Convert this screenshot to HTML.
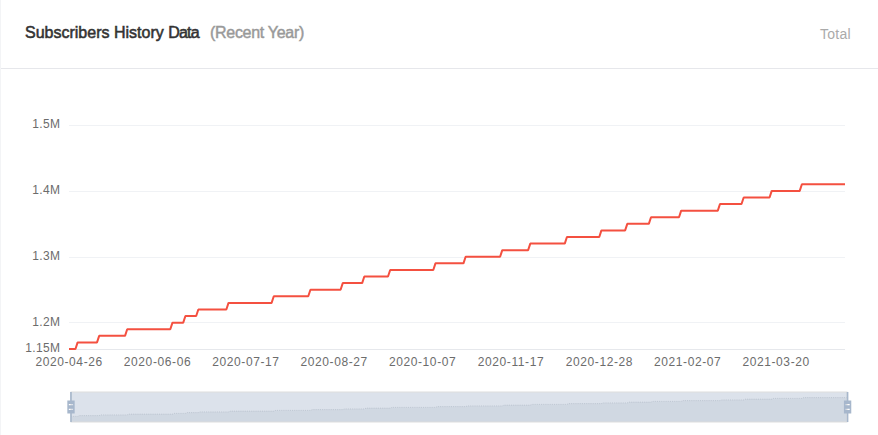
<!DOCTYPE html>
<html lang="en"><head><meta charset="utf-8"><title>Subscribers History Data</title>
<style>
html,body{margin:0;padding:0;background:#fff;}
body{width:878px;height:435px;overflow:hidden;position:relative;font-family:"Liberation Sans",sans-serif;}
.card{position:absolute;left:0;top:0;width:877px;height:435px;border-left:1px solid #f3f4f6;}
.head{position:absolute;left:1px;top:0;width:877px;height:68px;border-bottom:1px solid #e6e7eb;}
.title{position:absolute;left:24px;top:22px;height:22px;line-height:22px;font-size:16px;font-weight:normal;color:#333;-webkit-text-stroke:0.55px #333;letter-spacing:0px;white-space:nowrap;}
.title .d{letter-spacing:-0.75px;}
.sub{position:absolute;left:209px;top:22px;height:22px;line-height:22px;font-size:16px;color:#999;-webkit-text-stroke:0.45px #999;letter-spacing:-0.3px;white-space:nowrap;}
.total{position:absolute;left:819px;letter-spacing:0.25px;top:24px;height:20px;line-height:20px;font-size:14px;color:#aaa;white-space:nowrap;}
svg.chart{position:absolute;left:0;top:0;}
svg text{font-family:"Liberation Sans",sans-serif;font-size:12px;fill:#6c6c6c;}
.yl text{letter-spacing:0.4px;}
.xl text{letter-spacing:0.6px;}
</style></head><body>
<div class="card"></div>
<div class="head"><div class="title">Subscribers History <span class="d">Data</span></div><div class="sub">(Recent Year)</div><div class="total">Total</div></div>
<svg class="chart" width="878" height="435" viewBox="0 0 878 435">
<line x1="69.0" y1="125.5" x2="845.0" y2="125.5" stroke="#f0f2f5" stroke-width="1"/>
<line x1="69.0" y1="191.5" x2="845.0" y2="191.5" stroke="#f0f2f5" stroke-width="1"/>
<line x1="69.0" y1="257.5" x2="845.0" y2="257.5" stroke="#f0f2f5" stroke-width="1"/>
<line x1="69.0" y1="322.5" x2="845.0" y2="322.5" stroke="#f0f2f5" stroke-width="1"/>
<line x1="69.0" y1="349.5" x2="845.0" y2="349.5" stroke="#e6e8ec" stroke-width="1"/>
<polyline points="69.00,349.00 75.47,349.00 77.62,342.41 97.02,342.41 99.18,335.82 125.04,335.82 127.20,329.24 170.31,329.24 172.47,322.65 183.24,322.65 185.40,316.06 196.18,316.06 198.33,309.47 226.36,309.47 228.51,302.88 271.62,302.88 273.78,296.29 308.27,296.29 310.42,289.71 340.60,289.71 342.76,283.12 362.16,283.12 364.31,276.53 388.02,276.53 390.18,269.94 433.29,269.94 435.44,263.35 463.47,263.35 465.62,256.76 500.11,256.76 502.27,250.18 528.13,250.18 530.29,243.59 564.78,243.59 566.93,237.00 599.27,237.00 601.42,230.41 625.13,230.41 627.29,223.82 648.84,223.82 651.00,217.24 679.02,217.24 681.18,210.65 717.82,210.65 719.98,204.06 741.53,204.06 743.69,197.47 769.56,197.47 771.71,190.88 799.73,190.88 801.89,184.29 845.00,184.29" fill="none" stroke="#f45040" stroke-width="2" stroke-linejoin="bevel"/>
<g class="yl">
<text x="60.5" y="128.0" text-anchor="end">1.5M</text>
<text x="60.5" y="193.9" text-anchor="end">1.4M</text>
<text x="60.5" y="259.8" text-anchor="end">1.3M</text>
<text x="60.5" y="325.6" text-anchor="end">1.2M</text>
<text x="60.5" y="352.0" text-anchor="end">1.15M</text>
</g><g class="xl">
<text x="69.1" y="366" text-anchor="middle">2020-04-26</text>
<text x="157.5" y="366" text-anchor="middle">2020-06-06</text>
<text x="245.9" y="366" text-anchor="middle">2020-07-17</text>
<text x="334.2" y="366" text-anchor="middle">2020-08-27</text>
<text x="422.6" y="366" text-anchor="middle">2020-10-07</text>
<text x="511.0" y="366" text-anchor="middle">2020-11-17</text>
<text x="599.4" y="366" text-anchor="middle">2020-12-28</text>
<text x="687.7" y="366" text-anchor="middle">2021-02-07</text>
<text x="776.1" y="366" text-anchor="middle">2021-03-20</text>
</g>
<polygon points="71.00,422.00 71.00,416.38 77.47,416.38 79.62,415.62 99.02,415.62 101.18,414.88 127.04,414.88 129.20,414.12 172.31,414.12 174.47,413.38 185.24,413.38 187.40,412.62 198.18,412.62 200.33,411.88 228.36,411.88 230.51,411.12 273.62,411.12 275.78,410.38 310.27,410.38 312.42,409.62 342.60,409.62 344.76,408.88 364.16,408.88 366.31,408.12 390.02,408.12 392.18,407.38 435.29,407.38 437.44,406.62 465.47,406.62 467.62,405.88 502.11,405.88 504.27,405.12 530.13,405.12 532.29,404.38 566.78,404.38 568.93,403.62 601.27,403.62 603.42,402.88 627.13,402.88 629.29,402.12 650.84,402.12 653.00,401.38 681.02,401.38 683.18,400.62 719.82,400.62 721.98,399.88 743.53,399.88 745.69,399.12 771.56,399.12 773.71,398.38 801.73,398.38 803.89,397.62 847.00,397.62 847.00,422.00" fill="rgb(47,69,84)" fill-opacity="0.09"/>
<polyline points="71.00,416.38 77.47,416.38 79.62,415.62 99.02,415.62 101.18,414.88 127.04,414.88 129.20,414.12 172.31,414.12 174.47,413.38 185.24,413.38 187.40,412.62 198.18,412.62 200.33,411.88 228.36,411.88 230.51,411.12 273.62,411.12 275.78,410.38 310.27,410.38 312.42,409.62 342.60,409.62 344.76,408.88 364.16,408.88 366.31,408.12 390.02,408.12 392.18,407.38 435.29,407.38 437.44,406.62 465.47,406.62 467.62,405.88 502.11,405.88 504.27,405.12 530.13,405.12 532.29,404.38 566.78,404.38 568.93,403.62 601.27,403.62 603.42,402.88 627.13,402.88 629.29,402.12 650.84,402.12 653.00,401.38 681.02,401.38 683.18,400.62 719.82,400.62 721.98,399.88 743.53,399.88 745.69,399.12 771.56,399.12 773.71,398.38 801.73,398.38 803.89,397.62 847.00,397.62" fill="none" stroke="#2f4554" stroke-opacity="0.3" stroke-width="0.7" stroke-dasharray="1.1 1.0556"/>
<rect x="71.0" y="392.0" width="776.0" height="30.0" fill="rgb(167,183,204)" fill-opacity="0.4"/>
<rect x="71.0" y="392.0" width="776.0" height="30.0" fill="none" stroke="#ddd" stroke-width="1"/>
<path d="M8.2,13.6V3.9H6.3v9.7H3.1v14.9h3.3v9.7h1.8v-9.7h3.3V13.6H8.2z M9.7,24.4H4.8v-1.4h4.9V24.4z M9.7,19.1H4.8v-1.4h4.9V19.1z" fill="#a7b7cc" fill-rule="evenodd" transform="translate(64.615,388.589) scale(0.8746)"/>
<path d="M8.2,13.6V3.9H6.3v9.7H3.1v14.9h3.3v9.7h1.8v-9.7h3.3V13.6H8.2z M9.7,24.4H4.8v-1.4h4.9V24.4z M9.7,19.1H4.8v-1.4h4.9V19.1z" fill="#a7b7cc" fill-rule="evenodd" transform="translate(841.215,388.589) scale(0.8746)"/>
</svg>
</body></html>
